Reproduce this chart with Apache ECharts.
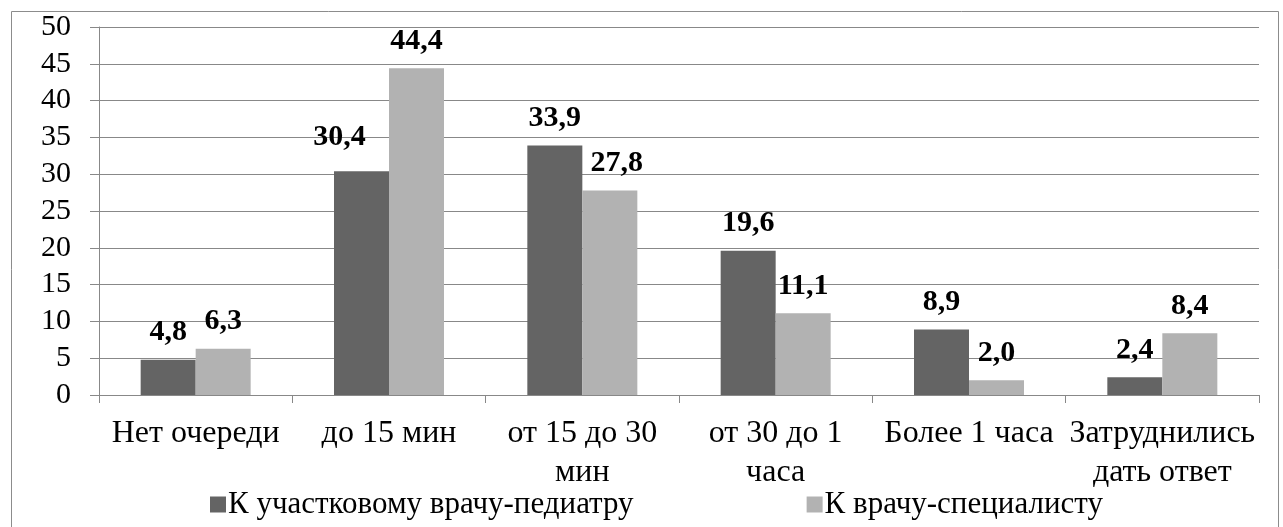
<!DOCTYPE html>
<html><head><meta charset="utf-8">
<script src="https://cdn.jsdelivr.net/npm/echarts@6/dist/echarts.min.js"></script>
<style>html,body{margin:0;padding:0;background:#fff}#c{width:1283px;height:527px}</style>
</head><body><div id="c"></div>
<script>
const categories = ['Нет очереди', 'до 15 мин', 'от 15 до 30\nмин', 'от 30 до 1\nчаса', 'Более 1 часа', 'Затруднились\nдать ответ'];
const pediatrician = [4.8, 30.4, 33.9, 19.6, 8.9, 2.4];
const specialist = [6.3, 44.4, 27.8, 11.1, 2.0, 8.4];
const yTicks = [0, 5, 10, 15, 20, 25, 30, 35, 40, 45, 50];
const seriesNames = ['К участковому врачу-педиатру', 'К врачу-специалисту'];

const FONT = 'Liberation Serif';
const chart = echarts.init(document.getElementById('c'), null, {renderer: 'canvas'});

// label nudges (styling only)
const pedOff = [[0,0],[-22,-7],[0,0],[0,0],[0,0],[0,0]];
const speOff = [[0,0],[0,0],[7,0],[0,0],[0,0],[0,0]];

function mk(vals, offs) {
  return vals.map((v, i) => ({
    value: v,
    label: {offset: offs[i]}
  }));
}
const lbl = {
  show: true, position: 'top', distance: 12,
  fontFamily: FONT, fontWeight: 'bold', fontSize: 30, color: '#000',
  formatter: p => p.value.toFixed(1).replace('.', ',')
};

chart.setOption({
  animation: false,
  backgroundColor: '#fff',
  textStyle: {fontFamily: FONT},
  graphic: [{
    type: 'rect', left: 9, top: 9,
    shape: {x: 0, y: 0, width: 1267, height: 530},
    style: {fill: 'none', stroke: '#8c8c8c', lineWidth: 1}
  }],
  grid: {left: 99, right: 24, top: 27, bottom: 132, containLabel: false},
  legend: {
    data: seriesNames,
    left: 205, top: 484,
    itemWidth: 16, itemHeight: 16, itemGap: 173,
    icon: 'rect',
    textStyle: {fontFamily: FONT, fontSize: 31, color: '#000', padding: [0,0,0,-3]}
  },
  xAxis: {
    type: 'category', data: categories,
    axisLine: {lineStyle: {color: '#888', width: 1}},
    axisTick: {show: true, length: 8, lineStyle: {color: '#888'}},
    axisLabel: {fontFamily: FONT, fontSize: 32, color: '#000', margin: 19, lineHeight: 39, interval: 0}
  },
  yAxis: {
    type: 'value', min: 0, max: 50, interval: 5,
    axisLine: {show: true, lineStyle: {color: '#888'}},
    axisTick: {show: true, length: 9, lineStyle: {color: '#888'}},
    splitLine: {lineStyle: {color: '#888', width: 1}},
    axisLabel: {fontFamily: FONT, fontSize: 30, color: '#000', margin: 28,
      formatter: v => yTicks.includes(v) ? String(v) : ''}
  },
  series: [
    {name: seriesNames[0], type: 'bar', data: mk(pediatrician, pedOff), barWidth: 55, barGap: '0%',
     itemStyle: {color: '#646464'}, label: lbl},
    {name: seriesNames[1], type: 'bar', data: mk(specialist, speOff), barWidth: 55,
     itemStyle: {color: '#b2b2b2'}, label: lbl}
  ]
});
</script></body></html>
